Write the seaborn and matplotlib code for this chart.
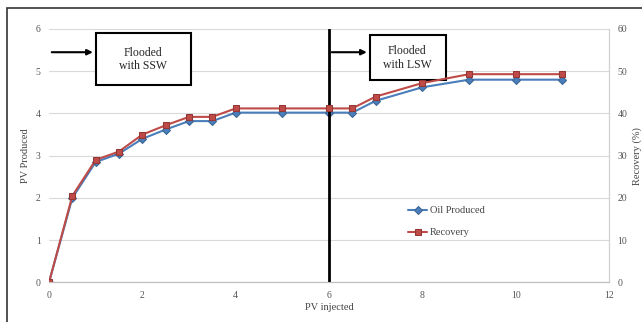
import numpy as np
import pandas as pd
import matplotlib.pyplot as plt
import seaborn as sns
from matplotlib.patches import Rectangle

# values
pv_injected = [0, 0.5, 1, 1.5, 2, 2.5, 3, 3.5, 4, 5, 6, 6.5, 7, 8, 9, 10, 11]
oil_produced = [0, 2.0, 2.85, 3.05, 3.4, 3.62, 3.82, 3.82, 4.02, 4.02, 4.02, 4.02, 4.3, 4.62, 4.8, 4.8, 4.8]
recovery = [0, 20.5, 29.0, 31.0, 35.0, 37.2, 39.2, 39.2, 41.2, 41.2, 41.2, 41.2, 44.0, 47.2, 49.3, 49.3, 49.3]

x_ticks = [0, 2, 4, 6, 8, 10, 12]
left_ticks = [0, 1, 2, 3, 4, 5, 6]
right_ticks = [0, 10, 20, 30, 40, 50, 60]
switch_pv = 6

df = pd.DataFrame({'pv': pv_injected, 'oil': oil_produced, 'rec': recovery})

sns.set_style('white')
plt.rcParams['font.family'] = ['Liberation Serif', 'DejaVu Serif']

fig = plt.figure(figsize=(6.42, 3.22), dpi=100)
ax = fig.add_axes([0.0763, 0.1227, 0.8723, 0.7873])
ax2 = ax.twinx()

blue = '#4A7EBB'
red = '#BE4B48'

sns.lineplot(data=df, x='pv', y='oil', ax=ax, color=blue, marker='D', markersize=4.5,
             markeredgecolor='#3B6594', linewidth=1.5, label='Oil Produced', legend=False)
sns.lineplot(data=df, x='pv', y='rec', ax=ax2, color=red, marker='s', markersize=4.5,
             markeredgecolor='#943634', linewidth=1.5, label='Recovery', legend=False)

ax.set_xlim(0, 12)
ax.set_ylim(0, 6)
ax2.set_ylim(0, 60)
ax.set_xticks(x_ticks)
ax.set_yticks(left_ticks)
ax2.set_yticks(right_ticks)
ax.set_xticklabels([str(t) for t in x_ticks], fontsize=7, color='#555555')
ax.set_yticklabels([str(t) for t in left_ticks], fontsize=7, color='#555555')
ax2.set_yticklabels([str(t) for t in right_ticks], fontsize=7, color='#555555')
ax.tick_params(length=0, pad=6)
ax2.tick_params(length=0, pad=6)

ax.grid(axis='y', color='#d9d9d9', linewidth=0.8)
ax.set_axisbelow(True)

for a in (ax, ax2):
    for side in ('top', 'left'):
        a.spines[side].set_visible(False)
    a.spines['bottom'].set_color('#bfbfbf')
    a.spines['right'].set_color('#d0d0d0')

ax.set_xlabel('PV injected', fontsize=7.5, color='#444444', labelpad=2)
ax.set_ylabel('PV Produced', fontsize=7.5, color='#444444', labelpad=4)
ax2.set_ylabel('Recovery (%)', fontsize=7.5, color='#444444', labelpad=4)

# switch from first to second flood
ax.axvline(switch_pv, color='black', linewidth=2, zorder=5)

# annotation boxes with arrows
ax.add_patch(Rectangle((1.0, 4.67), 2.05, 1.23, fill=True, facecolor='white',
                       edgecolor='black', linewidth=1.5, zorder=6, clip_on=False))
ax.text(2.02, 5.28, 'Flooded\nwith SSW', ha='center', va='center', fontsize=8.5, zorder=7)
ax.annotate('', xy=(1.0, 5.45), xytext=(0.0, 5.45),
            arrowprops=dict(arrowstyle='-|>', color='black', lw=1.5, mutation_scale=8), zorder=7)

ax.add_patch(Rectangle((6.87, 4.79), 1.63, 1.06, fill=True, facecolor='white',
                       edgecolor='black', linewidth=1.5, zorder=6, clip_on=False))
ax.text(7.68, 5.32, 'Flooded\nwith LSW', ha='center', va='center', fontsize=8.5, zorder=7)
ax.annotate('', xy=(6.87, 5.45), xytext=(switch_pv, 5.45),
            arrowprops=dict(arrowstyle='-|>', color='black', lw=1.5, mutation_scale=8), zorder=7)

h1, l1 = ax.get_legend_handles_labels()
h2, l2 = ax2.get_legend_handles_labels()
ax2.legend(h1 + h2, l1 + l2, loc='center', bbox_to_anchor=(0.71, 0.24), frameon=False,
           fontsize=7.5, handlelength=1.8, handletextpad=0.3, labelspacing=1.2,
           labelcolor='#444444')

# outer chart frame
fig.patches.append(Rectangle((7 / 642, -0.2), 1.2, 1.2 - 8 / 322, transform=fig.transFigure,
                             fill=False, edgecolor='#333333', linewidth=1.2))

fig.savefig('out.png', dpi=100)
